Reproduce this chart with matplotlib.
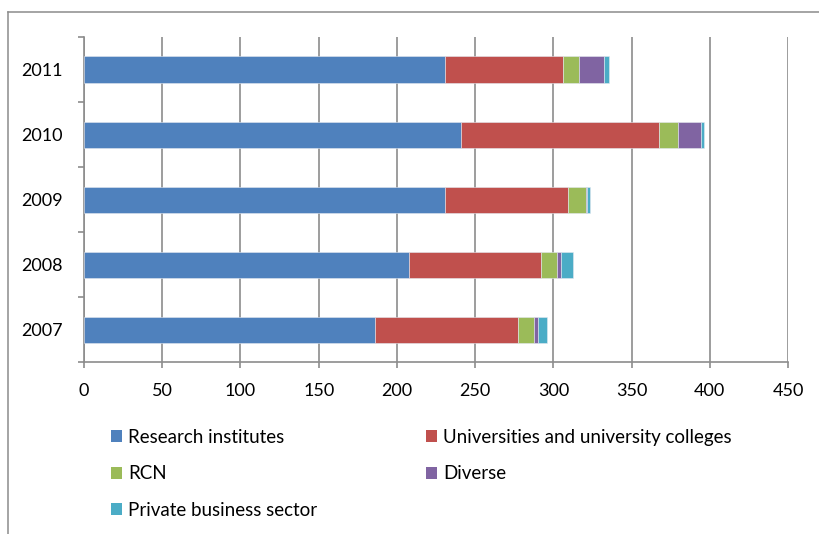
import matplotlib
matplotlib.use("Agg")
import matplotlib.pyplot as plt
from matplotlib.lines import Line2D
from matplotlib.patches import Patch
import numpy as np

# Data
years = ["2007", "2008", "2009", "2010", "2011"]
research_institutes = [185.8, 207.7, 230.7, 241.2, 231.0]
universities = [91.3, 84.1, 78.6, 126.6, 75.0]
rcn = [10.3, 10.6, 11.3, 12.0, 10.7]
diverse = [3.1, 2.2, 1.0, 14.3, 16.0]
private_business = [5.4, 7.7, 1.9, 2.5, 2.7]

series_names = ["Research institutes", "Universities and university colleges",
                "RCN", "Diverse", "Private business sector"]
colors = ["#4F81BD", "#C0504D", "#9BBB59", "#8064A2", "#4BACC6"]
x_ticks = [0, 50, 100, 150, 200, 250, 300, 350, 400, 450]

plt.rcParams['font.family'] = ['Lato', 'DejaVu Sans']
grey = "#8C8C8C"

fig = plt.figure(figsize=(8.19, 5.34), dpi=100)
ax = fig.add_axes([84 / 819, (534 - 362) / 534, 704 / 819, 325 / 534])

# Stacked horizontal bars
y = np.arange(len(years))
left = np.zeros(len(years))
series = [research_institutes, universities, rcn, diverse, private_business]
for vals, name, col in zip(series, series_names, colors):
    ax.barh(y, vals, left=left, height=0.4, color=col, label=name,
            edgecolor="#E3E8F0", linewidth=0.4, zorder=3)
    left += np.array(vals)

ax.set_xlim(0, 450)
ax.set_ylim(-0.5, len(years) - 0.5)
ax.set_xticks(x_ticks)
ax.set_xticklabels([str(t) for t in x_ticks], fontsize=13)
ax.set_yticks(y)
ax.set_yticklabels(years, fontsize=13)
ax.set_yticks(np.arange(-0.5, len(years), 1), minor=True)

ax.grid(axis="x", color=grey, linewidth=1.2, zorder=0)
for s in ["top", "right"]:
    ax.spines[s].set_visible(False)
for s in ["left", "bottom"]:
    ax.spines[s].set_color(grey)
    ax.spines[s].set_linewidth(1.2)

ax.tick_params(axis="y", which="major", length=0, pad=15)
ax.tick_params(axis="y", which="minor", length=4, color=grey, width=1.2)
ax.tick_params(axis="x", length=4, color=grey, width=1.2, pad=11)

# Legend, filled row by row like the original
order = [0, 2, 4, 1, 3]
handles = [Patch(facecolor=colors[i]) for i in order]
labels = [series_names[i] for i in order]
fig.legend(handles, labels, loc="upper left", bbox_to_anchor=(94 / 819, 1 - 412 / 534),
           ncol=2, frameon=False, fontsize=13.5, handlelength=0.6, handleheight=0.6,
           handletextpad=0.32, labelspacing=1.03, columnspacing=5.8)

# Outer chart border (left and top edges visible)
fig.add_artist(Line2D([8 / 819, 8 / 819], [0, 1 - 12 / 534], transform=fig.transFigure,
                      color=grey, linewidth=1.1))
fig.add_artist(Line2D([8 / 819, 1], [1 - 12 / 534, 1 - 12 / 534], transform=fig.transFigure,
                      color=grey, linewidth=1.1))

fig.savefig("out.png", dpi=100)
